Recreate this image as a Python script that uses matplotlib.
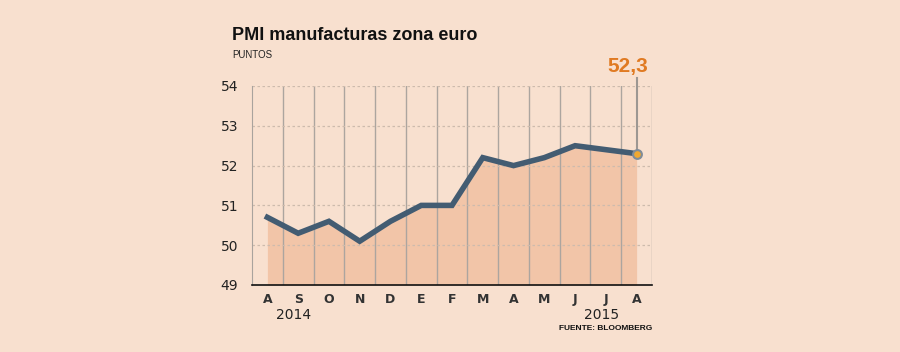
import numpy as np
import matplotlib.pyplot as plt

# datos
meses = ['A', 'S', 'O', 'N', 'D', 'E', 'F', 'M', 'A', 'M', 'J', 'J', 'A']
pmi = [50.7, 50.3, 50.6, 50.1, 50.6, 51.0, 51.0, 52.2, 52.0, 52.2, 52.5, 52.4, 52.3]
yticks = [49, 50, 51, 52, 53, 54]
years = [(1, '2014'), (11, '2015')]

BG = '#f8e0cf'
FILL = '#f2c5a8'
LINE = '#435c72'
ORANGE = '#e07a22'
ARIAL = 'Liberation Sans'

fig = plt.figure(figsize=(9, 3.52), dpi=100, facecolor=BG)
ax = fig.add_axes([252 / 900, 1 - 285 / 352, 400 / 900, 199 / 352])
ax.set_facecolor(BG)

x = np.arange(len(pmi))
ax.fill_between(x, 49, pmi, color=FILL, lw=0, zorder=1)

# rejilla
for v in np.arange(0.5, len(pmi), 1.0):
    ax.axvline(v, color='#aca59f', lw=1, zorder=2)
for v in yticks[1:]:
    ax.axhline(v, color='#cdbbad', lw=0.9, ls=(0, (2, 2)), zorder=2)

ax.plot(x, pmi, color=LINE, lw=4, solid_joinstyle='miter', zorder=4)

# ultimo dato
ax.plot([x[-1], x[-1]], [pmi[-1], 54.2], color='#9d9792', lw=1.5, zorder=3,
        clip_on=False)
ax.scatter([x[-1]], [pmi[-1]], s=40, color='#f0a830', edgecolor='#7f8c99',
           linewidth=1.5, zorder=5)
ax.text(x[-1] - 0.28, 54.25, '52,3', color=ORANGE, fontsize=15,
        fontweight='bold', ha='center', va='bottom', family=ARIAL)

ax.set_xlim(-0.5, len(pmi) - 0.5)
ax.set_ylim(49, 54)
ax.set_yticks(yticks)
ax.set_yticklabels([str(t) for t in yticks], fontsize=10, color='#222222')
ax.set_xticks(x)
ax.set_xticklabels(meses, fontsize=9, fontweight='bold', color='#333333')
ax.tick_params(length=0, pad=6)
ax.tick_params(axis='y', pad=10)

for s in ['top', 'right']:
    ax.spines[s].set_visible(False)
ax.spines['left'].set_color('#a9a39d')
ax.spines['bottom'].set_color('#111111')
ax.spines['bottom'].set_linewidth(1.2)

for pos, yr in years:
    ax.text(pos - 0.15, 48.43, yr, fontsize=10, color='#222222', ha='center',
            va='top', transform=ax.transData)

fig.text(232 / 900, 1 - 36 / 352, 'PMI manufacturas zona euro', fontsize=13,
         fontweight='bold', color='#111111', va='center', ha='left',
         family=ARIAL)
fig.text(232 / 900, 1 - 55 / 352, 'PUNTOS', fontsize=7, color='#222222',
         va='center', ha='left', family=ARIAL)
fig.text(652 / 900, 1 - 328 / 352, 'FUENTE: BLOOMBERG', fontsize=6,
         fontweight='bold', color='#111111', va='center', ha='right',
         family=ARIAL)

fig.savefig('out.png', dpi=100, facecolor=BG)
